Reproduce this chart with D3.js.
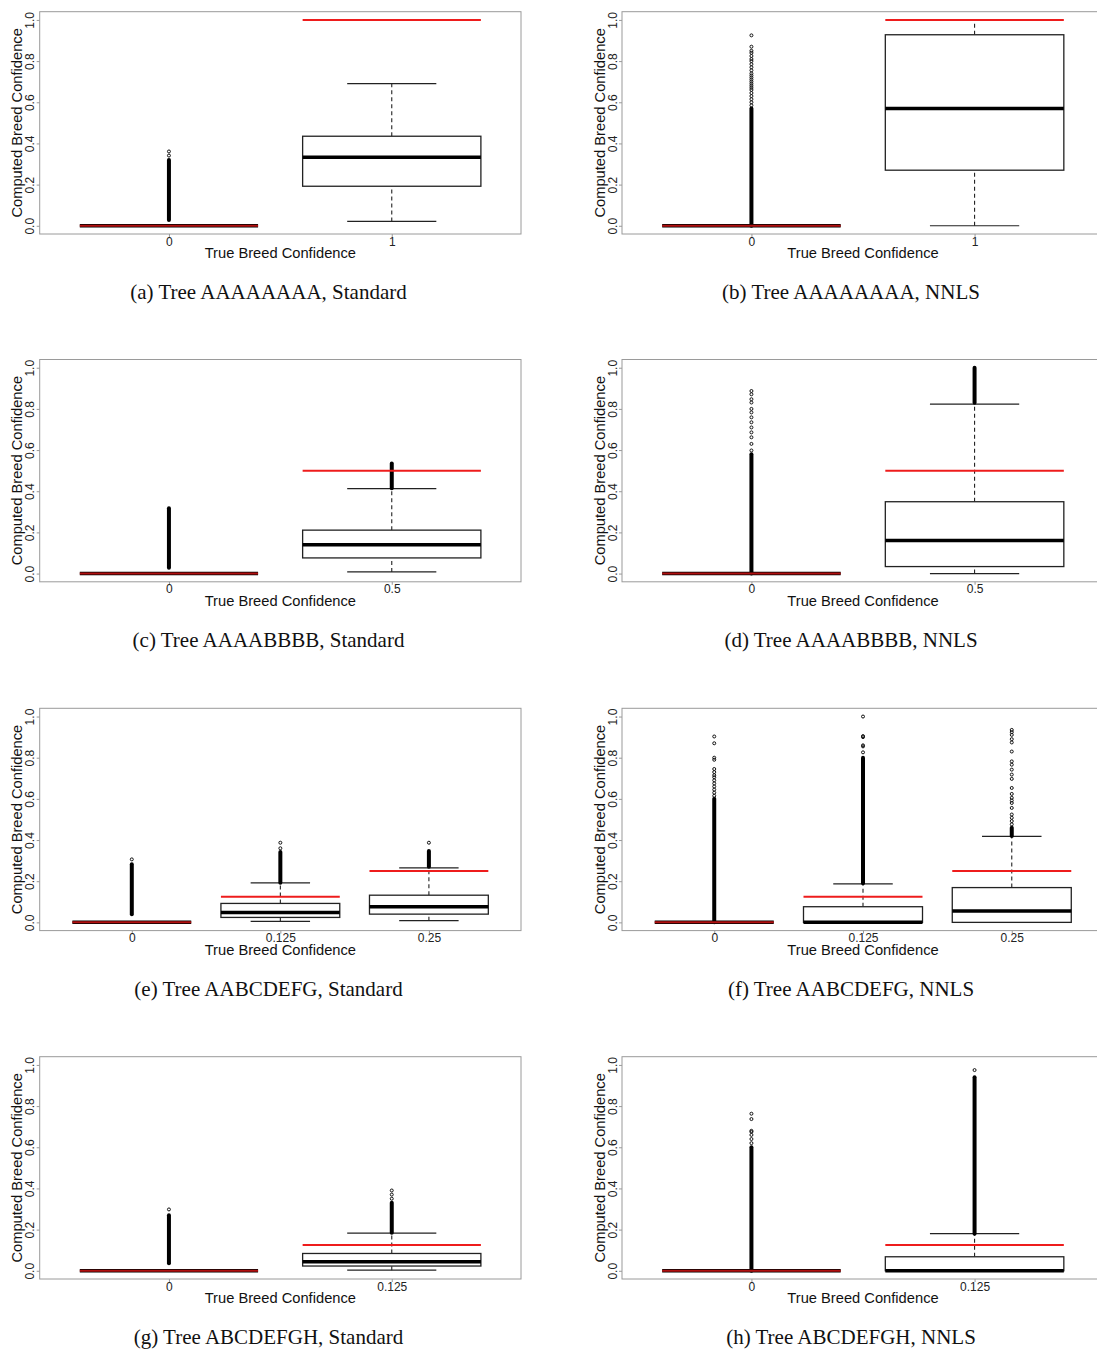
<!DOCTYPE html>
<html>
<head>
<meta charset="utf-8">
<script src="https://cdn.jsdelivr.net/npm/d3@7"></script>
<style>
  html, body { margin: 0; padding: 0; background: #fff; }
  svg { display: block; }
</style>
</head>
<body>
<svg id="fig"></svg>
<script>
// Eight box-plot panels: computed vs. true breed confidence per tree and method.
const panelLetters = ["a", "b", "c", "d", "e", "f", "g", "h"];
const treeNames = ["AAAAAAAA", "AAAAAAAA", "AAAABBBB", "AAAABBBB", "AABCDEFG", "AABCDEFG", "ABCDEFGH", "ABCDEFGH"];
const methodNames = ["Standard", "NNLS", "Standard", "NNLS", "Standard", "NNLS", "Standard", "NNLS"];

// Category labels (true breed confidence) and the true value for each box
const groupLabels = [
  ["0", "1"], ["0", "1"],
  ["0", "0.5"], ["0", "0.5"],
  ["0", "0.125", "0.25"], ["0", "0.125", "0.25"],
  ["0", "0.125"], ["0", "0.125"]
];
const trueValues = [
  [0, 1], [0, 1],
  [0, 0.5], [0, 0.5],
  [0, 0.125, 0.25], [0, 0.125, 0.25],
  [0, 0.125], [0, 0.125]
];

// Five-number summaries per box
const whiskerLow = [
  [0, 0.021], [0, 0],
  [0, 0.008], [0, 0],
  [0, 0.005, 0.008], [0, 0, 0],
  [0, 0.003], [0, 0]
];
const quartile1 = [
  [0, 0.192], [0, 0.27],
  [0, 0.076], [0, 0.034],
  [0, 0.024, 0.04], [0, 0, 0],
  [0, 0.023], [0, 0]
];
const medians = [
  [0, 0.333], [0, 0.57],
  [0, 0.14], [0, 0.161],
  [0, 0.048, 0.076], [0, 0, 0.055],
  [0, 0.044], [0, 0]
];
const quartile3 = [
  [0, 0.435], [0, 0.928],
  [0, 0.211], [0, 0.349],
  [0, 0.092, 0.132], [0, 0.076, 0.169],
  [0, 0.084], [0, 0.068]
];
const whiskerHigh = [
  [0, 0.691], [0, 1.0],
  [0, 0.413], [0, 0.823],
  [0, 0.192, 0.265], [0, 0.187, 0.418],
  [0, 0.183], [0, 0.18]
];

// Outliers: ranges so dense they form a solid column, plus individually visible points
const outlierBands = [
  [[0.028, 0.32], null], [[0, 0.57], null],
  [[0.028, 0.317], [0.415, 0.535]], [[0, 0.58], [0.83, 1.0]],
  [[0.04, 0.282], [0.192, 0.342], [0.27, 0.347]], [[0, 0.60], [0.19, 0.80], [0.42, 0.46]],
  [[0.036, 0.27], [0.185, 0.33]], [[0, 0.60], [0.18, 0.94]]
];
const outlierPoints = [
  [[0.341, 0.361], []],
  [[0.585, 0.60, 0.615, 0.63, 0.645, 0.66, 0.67, 0.68, 0.69, 0.70, 0.71, 0.72, 0.73, 0.74,
    0.755, 0.77, 0.785, 0.80, 0.81, 0.825, 0.84, 0.85, 0.87, 0.925], []],
  [[], []],
  [[0.598, 0.63, 0.662, 0.686, 0.71, 0.735, 0.759, 0.783, 0.80, 0.831, 0.847, 0.871, 0.887], []],
  [[0.306], [0.36, 0.387], [0.387]],
  [[0.615, 0.63, 0.645, 0.66, 0.675, 0.69, 0.705, 0.715, 0.73, 0.745, 0.79, 0.80, 0.87, 0.903],
   [0.826, 0.855, 0.86, 0.90, 0.905, 1.0],
   [0.476, 0.492, 0.508, 0.524, 0.556, 0.58, 0.592, 0.605, 0.624, 0.653, 0.697, 0.718, 0.742,
    0.766, 0.782, 0.83, 0.874, 0.89, 0.911, 0.924, 0.935]],
  [[0.298], [0.35, 0.37, 0.39]],
  [[0.62, 0.64, 0.66, 0.675, 0.68, 0.737, 0.763], [0.975]]
];

const yTicks = [0, 0.2, 0.4, 0.6, 0.8, 1.0];
const yLabel = "Computed Breed Confidence";
const xLabel = "True Breed Confidence";

// ---- layout ----
const W = 1097, H = 1349;
const colLeft = [39.7, 622];
const colRight = [521, 1104];
const rowTop = [11.7, 359.5, 708.3, 1056.7];
const plotH = 222.3;
const captionX = [268.5, 851];
const sans = "'Liberation Sans', Arial, Helvetica, sans-serif";
const serif = "'Liberation Serif', 'Times New Roman', Times, serif";
const redCol = "#ee1c1c";

const svg = d3.select("#fig").attr("width", W).attr("height", H);

panelLetters.forEach((letter, k) => {
  const col = k % 2, row = Math.floor(k / 2);
  const left = colLeft[col], right = colRight[col];
  const top = rowTop[row], bottom = top + plotH;
  const n = groupLabels[k].length;

  // R-style axis ranges: groups at 1..n, limits padded by 4%
  const x = d3.scaleLinear()
    .domain([0.5 - 0.04 * n, n + 0.5 + 0.04 * n])
    .range([left, right]);
  const y = d3.scaleLinear().domain([-0.04, 1.04]).range([bottom, top]);
  const halfBox = x(1.4) - x(1);
  const halfCap = x(1.2) - x(1);

  const g = svg.append("g");

  // plot frame
  g.append("rect")
    .attr("x", left).attr("y", top)
    .attr("width", right - left).attr("height", plotH)
    .attr("fill", "none").attr("stroke", "#9a9a9a").attr("stroke-width", 1);

  // y axis
  const yAxis = g.append("g")
    .attr("transform", `translate(${left},0)`)
    .call(d3.axisLeft(y).tickValues(yTicks).tickFormat(d3.format(".1f")).tickSize(3));
  yAxis.select(".domain").remove();
  yAxis.selectAll(".tick line").attr("stroke", "#9a9a9a");
  yAxis.selectAll(".tick text")
    .attr("transform", "rotate(-90)")
    .attr("x", 0).attr("y", -5.5).attr("dy", null)
    .attr("text-anchor", "middle")
    .attr("fill", "#222")
    .style("font-family", sans).style("font-size", "12px");

  // x axis
  const positions = d3.range(1, n + 1);
  const xAxis = g.append("g")
    .attr("transform", `translate(0,${bottom})`)
    .call(d3.axisBottom(x).tickValues(positions)
      .tickFormat(i => groupLabels[k][i - 1]).tickSize(3).tickPadding(0));
  xAxis.select(".domain").remove();
  xAxis.selectAll(".tick line").attr("stroke", "#9a9a9a");
  xAxis.selectAll(".tick text")
    .attr("y", 3).attr("dy", "0.71em")
    .attr("fill", "#222")
    .style("font-family", sans).style("font-size", "12px");

  // axis titles
  g.append("text")
    .attr("transform", `translate(${left - 17.5},${(top + bottom) / 2}) rotate(-90)`)
    .attr("text-anchor", "middle")
    .style("font-family", sans).style("font-size", "14.7px").attr("fill", "#111")
    .text(yLabel);
  g.append("text")
    .attr("x", (left + right) / 2).attr("y", bottom + 24)
    .attr("text-anchor", "middle")
    .style("font-family", sans).style("font-size", "14.7px").attr("fill", "#111")
    .text(xLabel);

  // boxes
  positions.forEach((p, i) => {
    const cx = x(p);
    const lo = whiskerLow[k][i], q1v = quartile1[k][i], md = medians[k][i];
    const q3v = quartile3[k][i], hi = whiskerHigh[k][i];

    // dashed whiskers
    [[lo, q1v], [q3v, hi]].forEach(([a, b]) => {
      if (b > a) {
        g.append("line")
          .attr("x1", cx).attr("x2", cx).attr("y1", y(a)).attr("y2", y(b))
          .attr("stroke", "#222").attr("stroke-width", 1.1)
          .attr("stroke-dasharray", "4,3");
      }
    });
    // whisker caps
    [lo, hi].forEach(v => {
      g.append("line")
        .attr("x1", cx - halfCap).attr("x2", cx + halfCap)
        .attr("y1", y(v)).attr("y2", y(v))
        .attr("stroke", "#222").attr("stroke-width", 1.2);
    });
    // box
    g.append("rect")
      .attr("x", cx - halfBox).attr("y", y(q3v))
      .attr("width", 2 * halfBox).attr("height", Math.max(0, y(q1v) - y(q3v)))
      .attr("fill", "#fff").attr("stroke", "#222").attr("stroke-width", 1.3);
    // median
    g.append("line")
      .attr("x1", cx - halfBox).attr("x2", cx + halfBox)
      .attr("y1", y(md)).attr("y2", y(md))
      .attr("stroke", "#000").attr("stroke-width", 3.5);

    // outliers
    const band = outlierBands[k][i];
    if (band) {
      g.append("line")
        .attr("x1", cx).attr("x2", cx)
        .attr("y1", y(band[0])).attr("y2", y(band[1]))
        .attr("stroke", "#000").attr("stroke-width", 4)
        .attr("stroke-linecap", "round");
    }
    g.selectAll(null).data(outlierPoints[k][i]).enter().append("circle")
      .attr("cx", cx).attr("cy", d => y(d)).attr("r", 1.5)
      .attr("fill", "none").attr("stroke", "#111").attr("stroke-width", 1);
  });

  // true-value reference lines
  positions.forEach((p, i) => {
    const cx = x(p);
    const tv = trueValues[k][i];
    g.append("line")
      .attr("x1", cx - halfBox).attr("x2", cx + halfBox)
      .attr("y1", y(tv)).attr("y2", y(tv))
      .attr("stroke", tv === 0 ? "#b01010" : redCol).attr("stroke-width", 2);
  });

  // sub-figure caption
  svg.append("text")
    .attr("x", captionX[col]).attr("y", bottom + 65)
    .attr("text-anchor", "middle")
    .style("font-family", serif).style("font-size", "21px").attr("fill", "#111")
    .text(`(${letter}) Tree ${treeNames[k]}, ${methodNames[k]}`);
});
</script>
</body>
</html>
